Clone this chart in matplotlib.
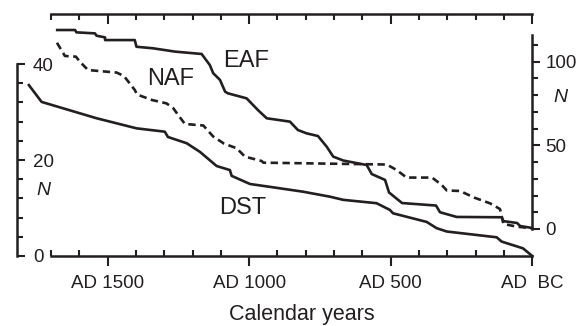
import numpy as np
import matplotlib
matplotlib.use("Agg")
import matplotlib.pyplot as plt
from matplotlib.ticker import FixedLocator

plt.rcParams['font.family'] = ['Liberation Sans', 'DejaVu Sans']

INK = '#231f20'

# DST, left axis (calendar year AD, N)
dst_year = [1778, 1733, 1539, 1398, 1298, 1287, 1221, 1174, 1115, 1068, 1062,
            997, 926, 810, 714, 668, 550, 503, 492, 373, 338, 302, 126, 108, 33, 0]
dst_n = [35.6, 32.1, 28.7, 26.6, 25.9, 24.8, 23.5, 21.7, 18.75, 17.9, 16.7,
         15.0, 14.4, 13.4, 12.35, 11.7, 11.0, 9.6, 8.9, 7.1, 5.8, 5.1, 3.9, 3.0, 1.6, 0]

# EAF, right axis
eaf_year = [1678, 1615, 1610, 1545, 1539, 1509, 1509, 1404, 1398, 1340, 1262, 1168,
            1139, 1127, 1103, 1085, 1075, 1009, 969, 938, 856, 828, 797, 757, 726,
            703, 668, 585, 567, 520, 506, 460, 340, 326, 267, 108, 102, 54, 43, 1]
eaf_n = [118.8, 118.8, 117.4, 116.8, 115.4, 114.4, 112.8, 112.8, 108.8, 107.9, 105.9, 104.5,
         97.9, 93.0, 89.0, 82.0, 81.0, 78.0, 71.0, 66.1, 64.1, 59.1, 57.1, 55.5, 49.1,
         43.2, 40.9, 38.2, 32.8, 29.3, 21.8, 15.5, 14.0, 10.0, 7.2, 7.0, 4.7, 3.6, 1.8, 0.6]

# NAF, right axis
naf_year = [1679, 1657, 1651, 1612, 1598, 1569, 1468, 1442, 1404, 1396, 1343, 1292,
            1268, 1251, 1227, 1162, 1127, 1089, 1044, 1015, 956, 950, 514, 479, 444,
            354, 320, 302, 255, 206, 149, 114, 102, 54, 1]
naf_n = [111.2, 105.1, 103.3, 102.9, 99.9, 94.9, 93.4, 91.3, 83.0, 80.3, 77.0, 75.0,
         72.1, 68.1, 62.7, 61.8, 55.2, 51.0, 48.2, 43.2, 40.6, 39.6, 38.5, 35.2, 30.7,
         30.7, 26.3, 23.0, 22.7, 18.8, 15.3, 11.9, 3.0, 1.4, 0.4]

x_major = [1500, 1000, 500, 0]
x_labels = ['AD 1500', 'AD 1000', 'AD 500', 'AD  BC']

fig = plt.figure(figsize=(5.88, 3.26), dpi=100)
ax = fig.add_axes([17 / 588, 70 / 326, 515.3 / 588, 242 / 326])
ax_r = ax.twinx()
ax_t = ax.twiny()

ax.set_xlim(1820, 0)
ax.set_ylim(0, 50.42)
ax_r.set_ylim(-16.12, 128.36)
ax_t.set_xlim(1820, 0)

lw = 1.9
ax.plot(dst_year, dst_n, color=INK, lw=lw, clip_on=False)
ax_r.plot(eaf_year, eaf_n, color=INK, lw=lw, clip_on=False)
ax_r.plot(naf_year, naf_n, color=INK, lw=lw, ls=(0, (2.8, 1.7)), clip_on=False)

# spines
for a in (ax, ax_r, ax_t):
    for s in a.spines.values():
        s.set_visible(False)
        s.set_linewidth(1.8)
        s.set_color(INK)

ax.spines['left'].set_visible(True)
ax.spines['left'].set_bounds(0, 40)
ax.spines['bottom'].set_visible(True)
ax.spines['bottom'].set_bounds(1700, 0)
ax_r.spines['right'].set_visible(True)
ax_r.spines['right'].set_bounds(0, 116)
ax_t.spines['top'].set_visible(True)
ax_t.spines['top'].set_bounds(1700, 0)

# bottom axis: minor up, major down
ax.xaxis.set_major_locator(FixedLocator(x_major))
ax.xaxis.set_minor_locator(FixedLocator(list(range(1700, 0, -100))))
ax.set_xticklabels(x_labels)
ax.tick_params(axis='x', which='major', direction='out', length=7.5, width=1.5,
               color=INK, labelsize=13.5, labelcolor=INK, pad=6)
ax.tick_params(axis='x', which='minor', direction='in', length=4, width=1.5, color=INK)

# top axis: ticks inward
ax_t.xaxis.set_major_locator(FixedLocator(x_major))
ax_t.xaxis.set_minor_locator(FixedLocator(list(range(1700, 0, -100))))
ax_t.tick_params(axis='x', which='both', direction='in', width=1.5, color=INK,
                 top=True, bottom=False, labeltop=False, labelbottom=False)
ax_t.tick_params(axis='x', which='major', length=7.5)
ax_t.tick_params(axis='x', which='minor', length=4)

# left axis
ax.yaxis.set_major_locator(FixedLocator([0, 20, 40]))
ax.yaxis.set_minor_locator(FixedLocator(list(range(0, 41, 4))))
ax.tick_params(axis='y', which='major', direction='in', length=6, width=1.5,
               color=INK, labelsize=13.5, labelcolor=INK, pad=-11.5)
ax.tick_params(axis='y', which='minor', direction='in', length=4, width=1.5, color=INK)
for lab in ax.get_yticklabels():
    lab.set_ha('left')

# right axis
ax_r.yaxis.set_major_locator(FixedLocator([0, 50, 100]))
ax_r.yaxis.set_minor_locator(FixedLocator(list(range(0, 111, 10))))
ax_r.tick_params(axis='y', which='major', direction='out', length=6, width=1.5,
                 color=INK, labelsize=13.5, labelcolor=INK, pad=3.5)
ax_r.tick_params(axis='y', which='minor', direction='out', length=4, width=1.5, color=INK)

# labels
ax.text(1093, 39.4, 'EAF', fontsize=17, color=INK, ha='left', va='baseline')
ax.text(1361, 35.6, 'NAF', fontsize=17, color=INK, ha='left', va='baseline')
ax.text(1107, 8.75, 'DST', fontsize=17, color=INK, ha='left', va='baseline')
ax.text(1728, 13.75, 'N', fontsize=14, style='italic', color=INK, ha='center', va='center')
ax_r.text(-101, 78.8, 'N', fontsize=14, style='italic', color=INK, ha='center', va='center')
fig.text(302 / 588, 6 / 326, 'Calendar years', fontsize=15.5, color=INK,
         ha='center', va='baseline')

fig.savefig('out.png', dpi=100)
